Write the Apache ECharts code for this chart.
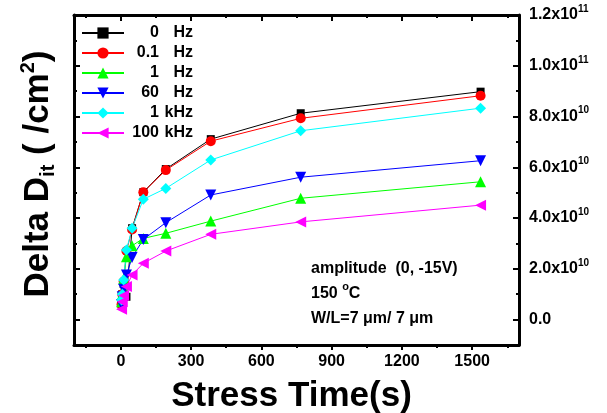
<!DOCTYPE html>
<html>
<head>
<meta charset="utf-8">
<script src="https://cdn.jsdelivr.net/npm/echarts@6/dist/echarts.min.js"></script>
<style>
  html, body { margin: 0; padding: 0; background: #fff; }
  #chart { width: 607px; height: 413px; }
</style>
</head>
<body>
<div id="chart"></div>
<script>
// Stress time (s) at each measurement
const stressTime = [3, 6, 12, 24, 48, 96, 192, 384, 768, 1536];

// Delta Dit (/cm^2) for each gate pulse frequency
const dit0Hz    = [0.60e10, 1.00e10, 1.40e10, 0.90e10, 3.60e10, 5.02e10, 5.93e10, 7.11e10, 8.13e10, 8.98e10];
const dit01Hz   = [0.60e10, 1.00e10, 1.50e10, 2.70e10, 3.55e10, 5.02e10, 5.89e10, 7.03e10, 7.93e10, 8.82e10];
const dit1Hz    = [0.70e10, 1.00e10, 1.60e10, 2.48e10, 2.91e10, 3.20e10, 3.40e10, 3.88e10, 4.78e10, 5.43e10];
const dit60Hz   = [0.60e10, 0.90e10, 1.20e10, 1.76e10, 2.45e10, 3.16e10, 3.82e10, 4.91e10, 5.61e10, 6.26e10];
const dit1kHz   = [0.77e10, 1.00e10, 1.56e10, 2.74e10, 3.60e10, 4.74e10, 5.17e10, 6.29e10, 7.44e10, 8.33e10];
const dit100kHz = [0.41e10, 0.70e10, 0.95e10, 1.30e10, 1.76e10, 2.22e10, 2.70e10, 3.36e10, 3.85e10, 4.51e10];

const seriesNames = ['0 Hz', '0.1 Hz', '1 Hz', '60 Hz', '1 kHz', '100 kHz'];

// Tick positions
const xMajorTicks = [0, 300, 600, 900, 1200, 1500];
const xMinorTicks = [-150, 150, 450, 750, 1050, 1350, 1650];
const yMajorTicks = [0, 2e10, 4e10, 6e10, 8e10, 1e11, 1.2e11];
const yMinorTicks = [-1e10, 1e10, 3e10, 5e10, 7e10, 9e10, 1.1e11];

const FONT = 'Liberation Sans, Arial, sans-serif';

function pair(xs, ys) { return xs.map((x, i) => [x, ys[i]]); }

function sciLabel(v) {
  if (v === 0) return '{b|0.0}';
  const e = Math.floor(Math.log10(v) + 1e-9);
  const m = v / Math.pow(10, e);
  return '{b|' + m.toFixed(1) + 'x10}{s|' + e + '}';
}

const chart = echarts.init(document.getElementById('chart'), null, { renderer: 'canvas' });

const lineAxis = { show: true, onZero: false, lineStyle: { color: '#000', width: 3 } };
const noLine = { show: false, onZero: false };

function xAx(pos, ticks, len, inside, showLine, extra) {
  return Object.assign({
    type: 'value', position: pos, min: -200, max: 1700,
    axisLine: showLine ? lineAxis : noLine,
    axisTick: { show: true, customValues: ticks, inside: inside, length: len,
                lineStyle: { color: '#000', width: 2 } },
    axisLabel: { show: false },
    splitLine: { show: false }
  }, extra || {});
}
function yAx(pos, ticks, len, showLine, extra) {
  return Object.assign({
    type: 'value', position: pos, min: -1e10, max: 1.2e11,
    axisLine: showLine ? lineAxis : noLine,
    axisTick: { show: true, customValues: ticks, inside: true, length: len,
                lineStyle: { color: '#000', width: 2 } },
    axisLabel: { show: false },
    splitLine: { show: false }
  }, extra || {});
}

const styles = [
  { color: '#000000', symbol: 'rect',     size: 8,  rotate: 0 },
  { color: '#ff0000', symbol: 'circle',   size: 10, rotate: 0 },
  { color: '#00ff00', symbol: 'triangle', size: 11, rotate: 0 },
  { color: '#0000ff', symbol: 'triangle', size: 11, rotate: 180 },
  { color: '#00ffff', symbol: 'diamond',  size: 11, rotate: 0 },
  { color: '#ff00ff', symbol: 'triangle', size: 11, rotate: 90 }
];
const values = [dit0Hz, dit01Hz, dit1Hz, dit60Hz, dit1kHz, dit100kHz];

const series = seriesNames.map((name, i) => ({
  name: name,
  type: 'line',
  xAxisIndex: 0,
  yAxisIndex: 0,
  data: pair(stressTime, values[i]),
  symbol: styles[i].symbol,
  symbolSize: styles[i].size,
  symbolRotate: styles[i].rotate,
  showAllSymbol: true,
  itemStyle: { color: styles[i].color },
  lineStyle: { color: styles[i].color, width: 1 },
  emphasis: { disabled: true },
  animation: false
}));

// One legend row per series so each row sits on a fixed pitch
const legendText = {
  fontFamily: FONT, fontWeight: 'bold', fontSize: 16, color: '#000', lineHeight: 16,
  rich: {
    n: { fontFamily: FONT, fontWeight: 'bold', fontSize: 16, color: '#000', width: 30, align: 'right', lineHeight: 16 },
    u: { fontFamily: FONT, fontWeight: 'bold', fontSize: 16, color: '#000', width: 34, align: 'right', lineHeight: 16 }
  }
};
const legends = seriesNames.map((name, i) => ({
  orient: 'vertical', left: 81, top: 25 + i * 20, padding: 0,
  itemWidth: 42, itemHeight: 14,
  data: [name],
  selectedMode: false,
  formatter: function (nm) {
    const parts = nm.split(' ');
    return '{n|' + parts[0] + '}{u|' + parts[1] + '}';
  },
  textStyle: legendText
}));

chart.setOption({
  animation: false,
  backgroundColor: '#fff',
  grid: { left: 74, right: 88, top: 15, bottom: 68, containLabel: false, outerBoundsMode: 'none' },
  xAxis: [
    xAx('bottom', xMajorTicks, 5, false, true, {
      axisLabel: { show: true, customValues: xMajorTicks, margin: 9, formatter: v => String(v),
                   fontFamily: FONT, fontWeight: 'bold', fontSize: 16, color: '#000' },
      name: 'Stress Time(s)', nameLocation: 'middle', nameGap: 34,
      nameTextStyle: { fontFamily: FONT, fontWeight: 'bold', fontSize: 35, color: '#000',
                       padding: [0, 10, 0, 0] }
    }),
    xAx('bottom', xMinorTicks, 3, false, false),
    xAx('top', xMajorTicks, 6, true, true),
    xAx('top', xMinorTicks, 3, true, false)
  ],
  yAxis: [
    yAx('left', yMajorTicks, 6, true, {
      name: 'Delta D{sub|it} ( /cm{sup|2})', nameLocation: 'middle', nameRotate: 90, nameGap: 16,
      nameTextStyle: {
        fontFamily: FONT, fontWeight: 'bold', fontSize: 35, color: '#000', lineHeight: 40,
        padding: [0, 0, 0, 12],
        rich: {
          sub: { fontFamily: FONT, fontWeight: 'bold', fontSize: 20, color: '#000', verticalAlign: 'bottom', lineHeight: 18 },
          sup: { fontFamily: FONT, fontWeight: 'bold', fontSize: 20, color: '#000', verticalAlign: 'top', lineHeight: 18 }
        }
      }
    }),
    yAx('left', yMinorTicks, 3, false),
    yAx('right', yMajorTicks, 6, true, {
      axisLabel: { show: true, customValues: yMajorTicks, margin: 10, formatter: sciLabel,
        rich: {
          b: { fontFamily: FONT, fontWeight: 'bold', fontSize: 16, color: '#000', lineHeight: 22 },
          s: { fontFamily: FONT, fontWeight: 'bold', fontSize: 10, color: '#000', verticalAlign: 'top', lineHeight: 12 }
        } }
    }),
    yAx('right', yMinorTicks, 3, false)
  ],
  legend: legends,
  graphic: [{
    type: 'text', left: 311, top: 256,
    style: {
      text: 'amplitude  (0, -15V)\n150 {s|o}C\nW/L=7 μm/ 7 μm',
      fontFamily: FONT, fontWeight: 'bold', fontSize: 16, fill: '#000', lineHeight: 25,
      rich: {
        s: { fontFamily: FONT, fontWeight: 'bold', fontSize: 11, fill: '#000', verticalAlign: 'top', lineHeight: 14 }
      }
    }
  }],
  series: series
});
</script>
</body>
</html>
